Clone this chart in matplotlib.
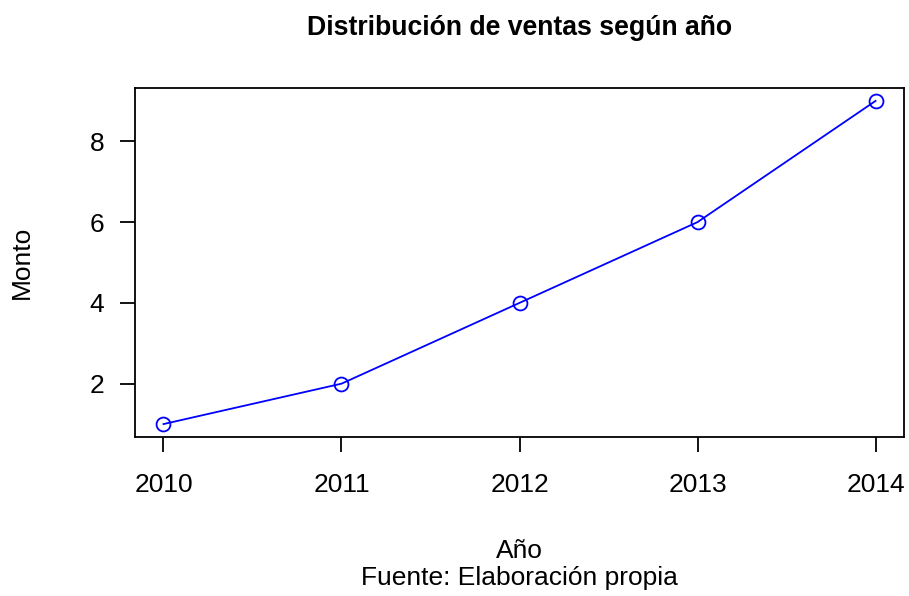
import matplotlib
matplotlib.use("Agg")
import matplotlib.pyplot as plt

# datos
anios = [2010, 2011, 2012, 2013, 2014]
monto = [1, 2, 4, 6, 9]
yticks = [2, 4, 6, 8]

plt.rcParams['font.family'] = ['Liberation Sans', 'DejaVu Sans']

W, H = 909, 596
fig = plt.figure(figsize=(W / 100, H / 100), dpi=100)
ax = fig.add_axes([135 / W, 1 - 437 / H, (904 - 135) / W, (437 - 88) / H])

ax.plot(anios, monto, color='blue', lw=1.3, marker='o', markersize=10,
        markerfacecolor='none', markeredgecolor='blue', markeredgewidth=1.3)

ext_x = (max(anios) - min(anios)) * 0.04
ext_y = (max(monto) - min(monto)) * 0.04
ax.set_xlim(min(anios) - ext_x, max(anios) + ext_x)
ax.set_ylim(min(monto) - ext_y, max(monto) + ext_y)
ax.set_xticks(anios)
ax.set_xticklabels([str(a) for a in anios])
ax.set_yticks(yticks)

for s in ax.spines.values():
    s.set_linewidth(1.3)
ax.tick_params(axis='both', length=11, width=1.3, labelsize=19)
ax.tick_params(axis='x', pad=15)
ax.tick_params(axis='y', pad=11)

cx = (135 + 904) / 2 / W
fig.text(cx, 1 - 28 / H, 'Distribución de ventas según año', ha='center', va='center',
         fontsize=19.2, fontweight='bold')
fig.text(22 / W, 1 - 262 / H, 'Monto', rotation=90, ha='center', va='center', fontsize=19)
fig.text(cx, 1 - 551 / H, 'Año', ha='center', va='center', fontsize=19)
fig.text(cx, 1 - 578 / H, 'Fuente: Elaboración propia', ha='center',
         va='center', fontsize=19)

fig.savefig('out.png', dpi=100)
